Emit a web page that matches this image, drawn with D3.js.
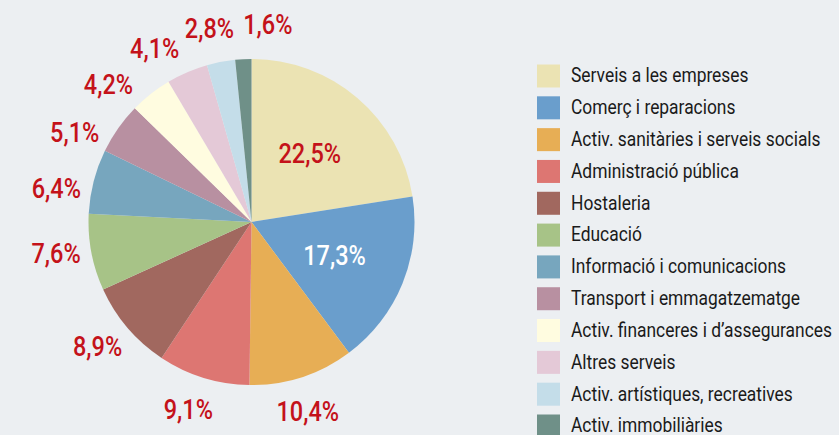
<!DOCTYPE html>
<html><head><meta charset="utf-8">
<script src="https://cdn.jsdelivr.net/npm/d3@7"></script>
<style>
html,body{margin:0;padding:0;background:#eceff2;}
svg{display:block;}
</style></head>
<body>
<svg id="chart" width="839" height="435"></svg>
<script>
const categories = ["Serveis a les empreses","Comerç i reparacions","Activ. sanitàries i serveis socials","Administració pública","Hostaleria","Educació","Informació i comunicacions","Transport i emmagatzematge","Activ. financeres i d’assegurances","Altres serveis","Activ. artístiques, recreatives","Activ. immobiliàries"];
const values = [22.5,17.3,10.4,9.1,8.9,7.6,6.4,5.1,4.2,4.1,2.8,1.6];
const colors = ["#ebe3b3","#6a9ecc","#e7ae55","#dd7672","#a1685f","#a7c387","#77a6be","#b890a1","#fffce0","#e4c9d7","#c4dde9","#6f9088"];

const svg = d3.select("#chart");
const W = 839, H = 435;
svg.append("rect").attr("width",W).attr("height",H).attr("fill","#eceff2");

const cx = 251.5, cy = 222, R = 163;
const fmt = v => d3.format(".1f")(v).replace(".", ",") + "%";
const font = "Roboto, sans-serif";
const SX = 0.87;

const pie = d3.pie().sort(null).value(d => d.v);
const data = categories.map((c,i)=>({c, v: values[i], col: colors[i]}));
const arcs = pie(data);
const arc = d3.arc().innerRadius(0).outerRadius(R);

const g = svg.append("g").attr("transform",`translate(${cx},${cy})`);
g.selectAll("path").data(arcs).enter().append("path")
  .attr("d", arc).attr("fill", d => d.data.col);

function label(x, y, txt, fill) {
  g.append("text").attr("transform",`translate(${x},${y}) scale(${SX},1)`)
    .attr("text-anchor","middle").attr("dominant-baseline","central")
    .attr("font-family",font).attr("font-size",27).attr("font-weight",500)
    .attr("fill", fill).text(txt);
}

// inside labels for the two largest slices
const inner = d3.arc().innerRadius(R*0.55).outerRadius(R*0.55);
arcs.forEach((a,i)=>{
  if (i < 2) {
    const [x,y] = inner.centroid(a);
    label(x, y, fmt(a.data.v), i===0 ? "#c4121a" : "#ffffff");
  }
});

// outside labels with angular spreading
const rad = Math.PI/180;
const outs = arcs.map((a,i)=>({i, a, ang0:(a.startAngle+a.endAngle)/2})).filter(o=>o.i>=2);
outs.forEach(o=>o.ang=o.ang0);
const minGap = 17*rad;
for (let it=0; it<300; it++) {
  for (let k=0;k<outs.length-1;k++){
    const gap = outs[k+1].ang - outs[k].ang;
    if (gap < minGap) {
      const d = (minGap-gap)/2;
      outs[k].ang -= d; outs[k+1].ang += d;
    }
  }
}
const LR = 198;
outs.forEach(o=>{
  const moved = Math.abs(o.ang - o.ang0) > 0.5*rad;
  const ang = o.ang + (moved ? -3.5*rad : 1.5*rad);
  label(Math.sin(ang)*LR, -Math.cos(ang)*LR, fmt(o.a.data.v), "#c4121a");
});

// legend
const lg = svg.append("g");
const ly = d3.scalePoint().domain(categories).range([76, 426]);
categories.forEach((c,i)=>{
  const y = ly(c);
  lg.append("rect").attr("x",537).attr("y",y-11.5).attr("width",23).attr("height",23).attr("fill",colors[i]);
  lg.append("text").attr("transform",`translate(571,${y}) scale(${SX},1)`).attr("dominant-baseline","central")
    .attr("font-family",font).attr("font-size",20).attr("fill","#1a1a1a").text(c);
});
</script>
</body></html>
